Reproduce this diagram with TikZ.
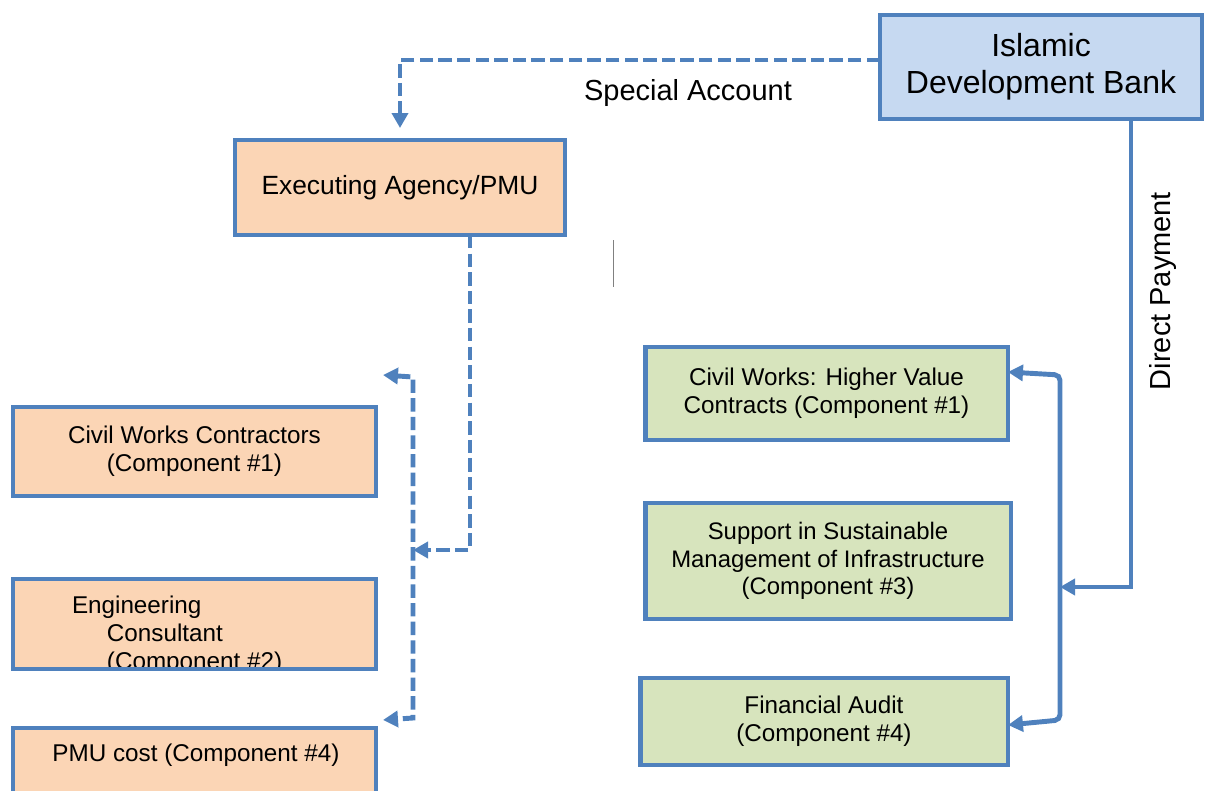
\documentclass[tikz,border=0pt]{standalone}
\usepackage{fontspec}
\setmainfont{Liberation Sans}
\usetikzlibrary{arrows.meta}
\definecolor{boxblue}{HTML}{4F81BD}
\definecolor{peach}{HTML}{FBD5B5}
\definecolor{sage}{HTML}{D7E4BD}
\definecolor{skyfill}{HTML}{C6D9F1}
\tikzset{
  box/.style={draw=boxblue,line width=2.8pt,align=center,inner sep=0pt,outer sep=0pt,
    font=\fontsize{13.8}{15.8}\selectfont},
  orangebox/.style={box,fill=peach},
  greenbox/.style={box,fill=sage},
  dashline/.style={draw=boxblue,line width=2.8pt,dash pattern=on 7.6pt off 3pt},
  payline/.style={draw=boxblue,line width=2.8pt},
  bigtext/.style={font=\fontsize{16.5}{19}\selectfont}
}
\begin{document}
\begin{tikzpicture}[x=0.02cm,y=-0.02cm,>={Triangle[length=0.3cm,width=0.32cm]}]
    \useasboundingbox (0,0) rectangle (1208,791);
    % boxes
    \node[box,fill=skyfill,minimum width=6.44cm,minimum height=2.08cm,
      font=\fontsize{18.2}{21}\selectfont] (idb) at (1041,67) {Islamic\\Development Bank};
    \node[orangebox,minimum width=6.6cm,minimum height=1.9cm,font=\fontsize{15}{17}\selectfont] (ea) at (400,187.5) {Executing Agency/PMU};
    \node[orangebox,minimum width=7.26cm,minimum height=1.78cm] (cwc) at (194.5,451.5) {Civil Works Contractors\\(Component \#1)};
    \node[orangebox,minimum width=7.26cm,minimum height=1.8cm] (ec) at (194.5,624) {};
    \begin{scope}
      \clip (ec.north west) rectangle (ec.south east);
      \node[box,draw=none,align=left,anchor=west] (ectext) at (72,635) {Engineering\\\hspace*{0.7cm}Consultant\\\hspace*{0.7cm}(Component \#2)};
    \end{scope}
    \draw[payline] (ec.north west) rectangle (ec.south east);
    \node[orangebox,minimum width=7.26cm,minimum height=1.8cm] (pmu) at (194.5,773) {};
    \node[box,draw=none] (pmutext) at (196,755) {PMU cost (Component \#4)};
    \node[greenbox,minimum width=7.26cm,minimum height=1.86cm] (cwh) at (826.5,393.5) {Civil Works: Higher Value\\Contracts (Component \#1)};
    \node[greenbox,minimum width=7.32cm,minimum height=2.32cm,font=\fontsize{13.6}{15.8}\selectfont] (ssm) at (828,561) {Support in Sustainable\\Management of Infrastructure\\(Component \#3)};
    \node[greenbox,minimum width=7.36cm,minimum height=1.74cm] (fa) at (824,721.5) {Financial Audit\\(Component \#4)};
    % labels
    \node[bigtext] (sa) at (688,93) {Special Account};
    \node[bigtext,rotate=90] (dp) at (1163,291) {Direct Payment};
    % special account flow
    \coordinate (lhub) at (413,550);
    \coordinate (ltop) at (413,377);
    \coordinate (lbot) at (413,718);
    \coordinate (ltip) at (383,375);
    \coordinate (btip) at (383,720);
    \draw[dashline,->] ([yshift=0.14cm]idb.west) -| ([yshift=0.24cm]ea.north);
    \draw[dashline,->] ([xshift=1.4cm]ea.south) |- (lhub);
    \draw[dashline,<->] (ltip) -- (ltop) -- (lbot) -- (btip);
    % direct payment flow
    \coordinate (rhub) at (1060,587);
    \coordinate (rtop) at (1060,375);
    \coordinate (rbot) at (1060,720);
    \draw[payline,->] ([xshift=1.8cm]idb.south) |- (rhub);
    \draw[payline,<->,rounded corners=3pt] ([yshift=0.43cm]cwh.east) -- (rtop) -- (rbot) -- ([yshift=-0.07cm]fa.east);
    % cursor mark
    \draw[gray,very thin] (613,240) -- (613,287);
\end{tikzpicture}
\end{document}
